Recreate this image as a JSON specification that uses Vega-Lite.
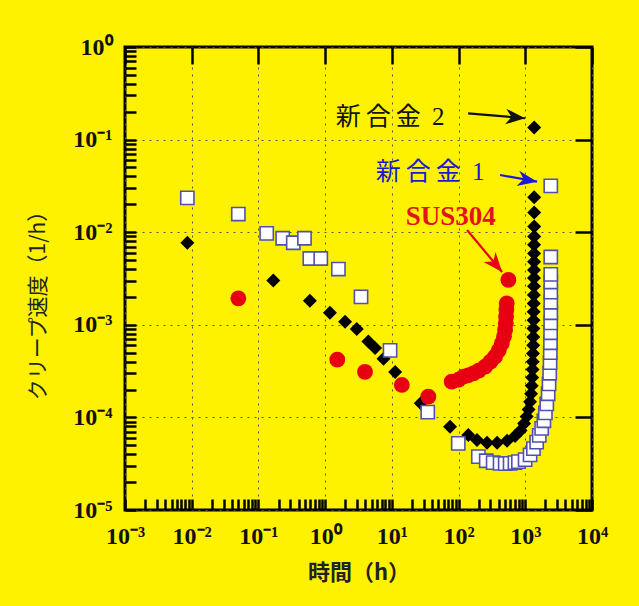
{
  "$schema": "https://vega.github.io/schema/vega-lite/v6.json",
  "width": 467,
  "height": 463,
  "autosize": "none",
  "padding": {"left": 125, "top": 47, "right": 47, "bottom": 96},
  "background": "#fff200",
  "config": {
    "view": {"stroke": "#000000", "strokeWidth": 3}
  },
  "datasets": {
    "alloy1": [
      {"t": 0.0086, "r": 0.0235}, {"t": 0.05, "r": 0.0157}, {"t": 0.133, "r": 0.0097}, {"t": 0.231, "r": 0.0086},
      {"t": 0.333, "r": 0.0077}, {"t": 0.49, "r": 0.0086}, {"t": 0.59, "r": 0.0052}, {"t": 0.86, "r": 0.0052},
      {"t": 1.58, "r": 0.004}, {"t": 3.45, "r": 0.002}, {"t": 9.4, "r": 0.00053}, {"t": 34.5, "r": 0.000114},
      {"t": 99, "r": 0.0000525}, {"t": 198, "r": 0.0000377}, {"t": 260, "r": 0.000034}, {"t": 330, "r": 0.0000325},
      {"t": 419, "r": 0.0000319}, {"t": 500, "r": 0.0000317}, {"t": 592, "r": 0.0000319}, {"t": 700, "r": 0.0000325},
      {"t": 789, "r": 0.0000333}, {"t": 994, "r": 0.000035}, {"t": 1180, "r": 0.0000393}, {"t": 1324, "r": 0.000046},
      {"t": 1480, "r": 0.000054}, {"t": 1620, "r": 0.000064}, {"t": 1760, "r": 0.000076}, {"t": 1900, "r": 0.000092},
      {"t": 2000, "r": 0.000112}, {"t": 2100, "r": 0.00014}, {"t": 2200, "r": 0.00018}, {"t": 2270, "r": 0.00023},
      {"t": 2320, "r": 0.0003}, {"t": 2350, "r": 0.00039}, {"t": 2370, "r": 0.0005}, {"t": 2385, "r": 0.00064},
      {"t": 2395, "r": 0.00082}, {"t": 2405, "r": 0.00105}, {"t": 2410, "r": 0.00135}, {"t": 2410, "r": 0.00175},
      {"t": 2410, "r": 0.00225}, {"t": 2410, "r": 0.0029}, {"t": 2410, "r": 0.0035}, {"t": 2410, "r": 0.0054},
      {"t": 2410, "r": 0.0316}
    ],
    "alloy2": [
      {"t": 0.0086, "r": 0.0077}, {"t": 0.167, "r": 0.003}, {"t": 0.59, "r": 0.00182}, {"t": 1.18, "r": 0.00135},
      {"t": 1.99, "r": 0.00108}, {"t": 2.98, "r": 0.0009}, {"t": 4.45, "r": 0.00066}, {"t": 5.6, "r": 0.00056},
      {"t": 7.5, "r": 0.00043}, {"t": 11.2, "r": 0.00031}, {"t": 27.1, "r": 0.000142}, {"t": 74.6, "r": 0.0000794},
      {"t": 140, "r": 0.0000646}, {"t": 189, "r": 0.000057}, {"t": 267, "r": 0.0000533}, {"t": 378, "r": 0.0000533},
      {"t": 533, "r": 0.000056}, {"t": 703, "r": 0.000063}, {"t": 850, "r": 0.000072}, {"t": 960, "r": 0.000086},
      {"t": 1050, "r": 0.000102}, {"t": 1120, "r": 0.000122}, {"t": 1180, "r": 0.000148}, {"t": 1220, "r": 0.00018},
      {"t": 1250, "r": 0.00022}, {"t": 1270, "r": 0.00027}, {"t": 1285, "r": 0.00033}, {"t": 1295, "r": 0.0004},
      {"t": 1305, "r": 0.00049}, {"t": 1315, "r": 0.0006}, {"t": 1320, "r": 0.00074}, {"t": 1325, "r": 0.00091},
      {"t": 1330, "r": 0.00112}, {"t": 1335, "r": 0.00138}, {"t": 1340, "r": 0.0017}, {"t": 1345, "r": 0.0021},
      {"t": 1350, "r": 0.0026}, {"t": 1350, "r": 0.0032}, {"t": 1350, "r": 0.0039}, {"t": 1355, "r": 0.0048},
      {"t": 1355, "r": 0.0059}, {"t": 1355, "r": 0.0073}, {"t": 1360, "r": 0.009}, {"t": 1360, "r": 0.0115},
      {"t": 1360, "r": 0.0163}, {"t": 1360, "r": 0.0238}, {"t": 1360, "r": 0.135}
    ],
    "sus304": [
      {"t": 0.05, "r": 0.00193}, {"t": 1.52, "r": 0.00042}, {"t": 3.96, "r": 0.00031}, {"t": 14.1, "r": 0.000224},
      {"t": 35.2, "r": 0.000168}, {"t": 79, "r": 0.000243}, {"t": 100, "r": 0.000255}, {"t": 118, "r": 0.000275},
      {"t": 140, "r": 0.000285}, {"t": 167, "r": 0.000299}, {"t": 200, "r": 0.00032}, {"t": 250, "r": 0.000353},
      {"t": 300, "r": 0.0004}, {"t": 352, "r": 0.000453}, {"t": 400, "r": 0.00053}, {"t": 444, "r": 0.00063},
      {"t": 480, "r": 0.00075}, {"t": 498, "r": 0.00088}, {"t": 510, "r": 0.00104}, {"t": 515, "r": 0.00122},
      {"t": 520, "r": 0.00145}, {"t": 527, "r": 0.0017}, {"t": 558, "r": 0.00305}
    ],
    "arrows": [
      {"name": "新合金2", "t1": 139, "r1": 0.192, "t2": 994, "r2": 0.17},
      {"name": "新合金1", "t1": 419, "r1": 0.0415, "t2": 1503, "r2": 0.0351},
      {"name": "SUS304", "t1": 134, "r1": 0.01057, "t2": 449, "r2": 0.00372}
    ],
    "labels": [
      {"name": "新合金2", "text": "新\u2009合\u2009金\u2009 2", "t": 9.4, "r": 0.175},
      {"name": "新合金1", "text": "新\u2009合\u2009金\u2009 1", "t": 37.4, "r": 0.045}
    ],
    "suslabel": [
      {"name": "SUS304", "text": "SUS304", "t": 76.4, "r": 0.0147}
    ]
  },
  "layer": [
    {
      "data": {"name": "alloy2"},
      "mark": {"type": "point", "shape": "diamond", "filled": true, "color": "#000000", "size": 196, "opacity": 1},
      "encoding": {
        "x": {
          "field": "t", "type": "quantitative",
          "scale": {"type": "log", "domain": [0.001, 10000], "nice": false},
          "axis": {
            "orient": "bottom", "domain": false, "ticks": true, "tickColor": "#000000", "tickWidth": 2.5, "tickSize": -11,
            "labelFlush": false, "labelOverlap": false, "labelBound": false,
            "values": [0.001,0.002,0.003,0.004,0.005,0.006,0.007,0.008,0.009,0.01,0.02,0.03,0.04,0.05,0.06,0.07,0.08,0.09,0.1,0.2,0.3,0.4,0.5,0.6,0.7,0.8,0.9,1,2,3,4,5,6,7,8,9,10,20,30,40,50,60,70,80,90,100,200,300,400,500,600,700,800,900,1000,2000,3000,4000,5000,6000,7000,8000,9000,10000],
            "labelExpr": "abs(log(datum.value)/LN10 - round(log(datum.value)/LN10)) < 0.001 ? '10' + (round(log(datum.value)/LN10) < 0 ? '⁻' : '') + ['⁰','¹','²','³','⁴','⁵'][abs(round(log(datum.value)/LN10))] : ''",
            "labelFont": "Liberation Serif", "labelFontWeight": "bold", "labelFontSize": 24, "labelColor": "#111111",
            "labelPadding": 25, "labelBaseline": "top",
            "grid": false,
            "title": "時間（h）", "titleFont": "Noto Sans CJK JP", "titleFontSize": 22, "titleFontWeight": "bold", "titleColor": "#222222",
            "titleX": 233.5, "titleY": 62, "titleBaseline": "middle", "titleAlign": "center"
          }
        },
        "y": {
          "field": "r", "type": "quantitative",
          "scale": {"type": "log", "domain": [0.00001, 1], "nice": false},
          "axis": {
            "orient": "left", "domain": false, "ticks": true, "tickColor": "#000000", "tickWidth": 2.5, "tickSize": -11,
            "labelFlush": false, "labelOverlap": false, "labelBound": false,
            "values": [0.00001,0.00002,0.00003,0.00004,0.00005,0.00006,0.00007,0.00008,0.00009,0.0001,0.0002,0.0003,0.0004,0.0005,0.0006,0.0007,0.0008,0.0009,0.001,0.002,0.003,0.004,0.005,0.006,0.007,0.008,0.009,0.01,0.02,0.03,0.04,0.05,0.06,0.07,0.08,0.09,0.1,0.2,0.3,0.4,0.5,0.6,0.7,0.8,0.9,1],
            "labelExpr": "abs(log(datum.value)/LN10 - round(log(datum.value)/LN10)) < 0.001 ? '10' + (round(log(datum.value)/LN10) < 0 ? '⁻' : '') + ['⁰','¹','²','³','⁴','⁵'][abs(round(log(datum.value)/LN10))] : ''",
            "labelFont": "Liberation Serif", "labelFontWeight": "bold", "labelFontSize": 24, "labelColor": "#111111",
            "labelPadding": 24, "labelAlign": "right", "labelBaseline": "middle",
            "grid": false,
            "title": "クリープ速度（1/h）", "titleFont": "Noto Sans CJK JP", "titleFontSize": 21, "titleFontWeight": "normal", "titleColor": "#222222",
            "titleX": -87, "titleY": 253, "titleAngle": -90, "titleBaseline": "middle", "titleAlign": "center"
          }
        }
      }
    },
    {
      "data": {"name": "alloy1"},
      "mark": {"type": "point", "shape": "square", "filled": true, "fill": "#ffffff", "stroke": "#5050b0", "strokeWidth": 1.6, "size": 175, "opacity": 1},
      "encoding": {
        "x": {
          "field": "t", "type": "quantitative",
          "axis": {
            "orient": "top", "labels": false, "title": null, "domain": false, "ticks": true, "tickColor": "#000000", "tickWidth": 2.5, "tickSize": -17,
            "values": [0.001, 0.01, 0.1, 1, 10, 100, 1000, 10000],
            "grid": true, "gridColor": "#555555", "gridDash": [2, 5], "gridWidth": 1
          }
        },
        "y": {
          "field": "r", "type": "quantitative",
          "axis": {
            "orient": "right", "labels": false, "title": null, "domain": false, "ticks": true, "tickColor": "#000000", "tickWidth": 2.5, "tickSize": -17,
            "values": [0.00001, 0.0001, 0.001, 0.01, 0.1, 1],
            "grid": true, "gridColor": "#555555", "gridDash": [2, 5], "gridWidth": 1
          }
        }
      }
    },
    {
      "data": {"name": "sus304"},
      "mark": {"type": "point", "shape": "circle", "filled": true, "color": "#e60012", "size": 250, "opacity": 1},
      "encoding": {
        "x": {"field": "t", "type": "quantitative", "axis": null},
        "y": {"field": "r", "type": "quantitative", "axis": null}
      }
    },
    {
      "data": {"name": "arrows"},
      "mark": {"type": "rule", "strokeWidth": 2.2},
      "encoding": {
        "x": {"field": "t1", "type": "quantitative", "axis": null},
        "y": {"field": "r1", "type": "quantitative", "axis": null},
        "x2": {"field": "t2"},
        "y2": {"field": "r2"},
        "color": {"field": "name", "type": "nominal", "scale": {"domain": ["新合金2", "新合金1", "SUS304"], "range": ["#111111", "#1a1ad6", "#e60012"]}, "legend": null}
      }
    },
    {
      "data": {"name": "arrows"},
      "transform": [{"filter": "datum.name === '新合金2'"}],
      "mark": {"type": "point", "shape": "M0,0 L-0.8,2 L0,1.4 L0.8,2 Z", "filled": true, "color": "#111111", "size": 380, "angle": 95, "opacity": 1},
      "encoding": {
        "x": {"field": "t2", "type": "quantitative", "axis": null},
        "y": {"field": "r2", "type": "quantitative", "axis": null}
      }
    },
    {
      "data": {"name": "arrows"},
      "transform": [{"filter": "datum.name === '新合金1'"}],
      "mark": {"type": "point", "shape": "M0,0 L-0.8,2 L0,1.4 L0.8,2 Z", "filled": true, "color": "#1a1ad6", "size": 380, "angle": 100, "opacity": 1},
      "encoding": {
        "x": {"field": "t2", "type": "quantitative", "axis": null},
        "y": {"field": "r2", "type": "quantitative", "axis": null}
      }
    },
    {
      "data": {"name": "arrows"},
      "transform": [{"filter": "datum.name === 'SUS304'"}],
      "mark": {"type": "point", "shape": "M0,0 L-0.8,2 L0,1.4 L0.8,2 Z", "filled": true, "color": "#e60012", "size": 380, "angle": 140, "opacity": 1},
      "encoding": {
        "x": {"field": "t2", "type": "quantitative", "axis": null},
        "y": {"field": "r2", "type": "quantitative", "axis": null}
      }
    },
    {
      "data": {"name": "labels"},
      "mark": {"type": "text", "font": "'Liberation Serif', 'Noto Sans CJK JP'", "fontSize": 25, "align": "center", "baseline": "middle"},
      "encoding": {
        "x": {"field": "t", "type": "quantitative", "axis": null},
        "y": {"field": "r", "type": "quantitative", "axis": null},
        "text": {"field": "text"},
        "color": {"field": "name", "type": "nominal", "scale": {"domain": ["新合金2", "新合金1", "SUS304"], "range": ["#2a2a2a", "#3a3a90", "#e3131b"]}, "legend": null}
      }
    },
    {
      "data": {"name": "suslabel"},
      "mark": {"type": "text", "font": "Liberation Serif", "fontWeight": "bold", "fontSize": 27, "align": "center", "baseline": "middle", "color": "#e3131b"},
      "encoding": {
        "x": {"field": "t", "type": "quantitative", "axis": null},
        "y": {"field": "r", "type": "quantitative", "axis": null},
        "text": {"field": "text"}
      }
    }
  ],
  "resolve": {"axis": {"x": "independent", "y": "independent"}}
}
